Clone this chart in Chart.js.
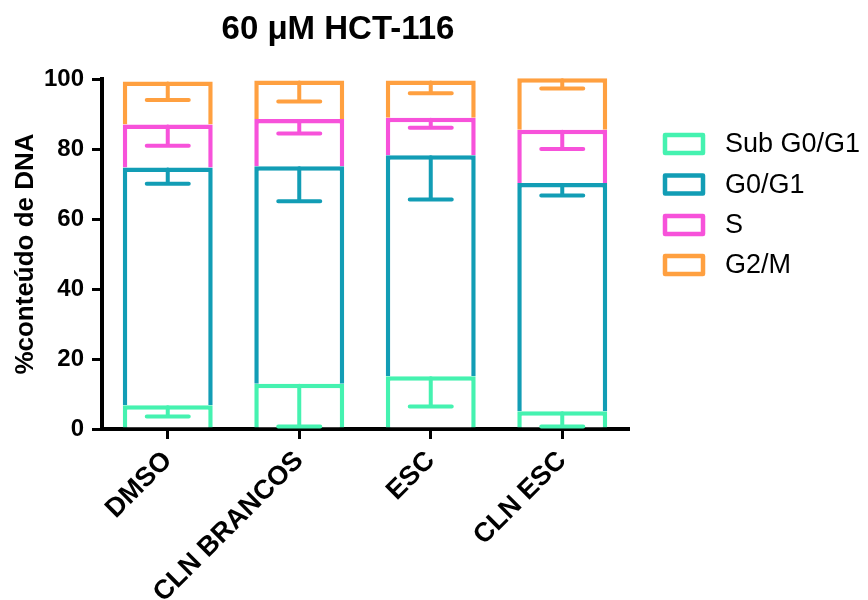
<!DOCTYPE html>
<html>
<head>
<meta charset="utf-8">
<script src="https://cdn.jsdelivr.net/npm/chart.js@4.4.1/dist/chart.umd.min.js"></script>
<style>
  html, body { margin: 0; padding: 0; background: #fff; }
  #wrap { width: 868px; height: 600px; }
</style>
</head>
<body>
<div id="wrap"><canvas id="cellCycle" width="868" height="600"></canvas></div>
<script>
// dati
const categories = ['DMSO', 'CLN BRANCOS', 'ESC', 'CLN ESC'];
const seriesLabels = ['Sub G0/G1', 'G0/G1', 'S', 'G2/M'];
const seriesColors = ['#45F2B0', '#129DB5', '#F752DA', '#FFA040'];

const subG0G1 = [6.8, 12.9, 15.1, 5.1];
const g0g1 = [67.9, 62.2, 63.1, 65.2];
const sPhase = [12.3, 13.5, 10.7, 15.2];
const g2m = [12.3, 11.0, 10.7, 14.7];

// errore (solo verso il basso)
const subG0G1Err = [3.2, 12.2, 8.7, 4.4];
const g0g1Err = [4.6, 10.0, 12.6, 3.6];
const sErr = [6.1, 4.2, 2.8, 5.5];
const g2mErr = [5.3, 6.0, 3.7, 2.9];

const yTicks = [0, 20, 40, 60, 80, 100];

const seriesValues = [subG0G1, g0g1, sPhase, g2m];
const seriesErrors = [subG0G1Err, g0g1Err, sErr, g2mErr];

const FONT = "'Liberation Sans', Arial, sans-serif";
const BORDER = 4.5;

// barre di errore disegnate sopra le barre impilate
const errorBars = {
    id: 'errorBars',
    afterDatasetsDraw(chart) {
        const ctx = chart.ctx;
        const y = chart.scales.y;
        ctx.save();
        ctx.lineWidth = 4;
        ctx.lineCap = 'round';
        chart.data.datasets.forEach((ds, i) => {
            const meta = chart.getDatasetMeta(i);
            meta.data.forEach((bar, j) => {
                let top = 0;
                for (let k = 0; k <= i; k++) top += seriesValues[k][j];
                const yCap = y.getPixelForValue(top - seriesErrors[i][j]);
                ctx.strokeStyle = ds.borderColor;
                ctx.beginPath();
                ctx.moveTo(bar.x, bar.y + 2);
                ctx.lineTo(bar.x, yCap);
                ctx.moveTo(bar.x - 21, yCap);
                ctx.lineTo(bar.x + 21, yCap);
                ctx.stroke();
            });
        });
        ctx.restore();
    }
};

// titolo e legenda a destra
const titleAndLegend = {
    id: 'titleAndLegend',
    afterDraw(chart) {
        const ctx = chart.ctx;
        ctx.save();
        ctx.fillStyle = '#000';
        ctx.textAlign = 'center';
        ctx.textBaseline = 'middle';
        ctx.font = 'bold 33px ' + FONT;
        ctx.fillText('60 \u03BCM HCT-116', 338, 30);

        ctx.textAlign = 'left';
        ctx.font = '27px ' + FONT;
        const rows = [144, 184.5, 225, 265];
        chart.data.datasets.forEach((ds, i) => {
            const cy = rows[i];
            ctx.lineWidth = BORDER;
            ctx.lineJoin = 'round';
            ctx.strokeStyle = ds.borderColor;
            ctx.strokeRect(665, cy - 9, 38, 18);
            ctx.fillStyle = '#000';
            ctx.fillText(ds.label, 725, cy + 1);
        });
        ctx.restore();
    }
};

const datasets = seriesLabels.map((label, i) => ({
    label: label,
    data: seriesValues[i],
    backgroundColor: '#ffffff',
    borderColor: seriesColors[i],
    borderWidth: BORDER,
    clip: false
}));

new Chart(document.getElementById('cellCycle').getContext('2d'), {
    type: 'bar',
    data: { labels: categories, datasets: datasets },
    options: {
        responsive: false,
        animation: false,
        layout: { padding: { top: 79, right: 240, left: 0, bottom: 0 } },
        datasets: { bar: { barPercentage: 0.684, categoryPercentage: 1 } },
        plugins: {
            legend: { display: false },
            title: { display: false },
            tooltip: { enabled: false }
        },
        scales: {
            x: {
                stacked: true,
                afterFit: s => { s.height = 171; },
                grid: { offset: false, drawOnChartArea: false, drawTicks: true, tickLength: 10, lineWidth: 3, color: '#000' },
                border: { display: true, width: 4, color: '#000' },
                ticks: {
                    color: '#000',
                    minRotation: 45,
                    maxRotation: 45,
                    padding: 6,
                    font: { family: FONT, size: 27, weight: 'bold' }
                }
            },
            y: {
                stacked: true,
                min: 0,
                max: 100,
                afterFit: s => { s.width = 102; },
                afterBuildTicks: s => { s.ticks = yTicks.map(v => ({ value: v })); },
                grid: { drawOnChartArea: false, drawTicks: true, tickLength: 10, lineWidth: 3, color: '#000' },
                border: { display: true, width: 4, color: '#000' },
                ticks: {
                    color: '#000',
                    padding: 8,
                    font: { family: FONT, size: 24, weight: 'bold' }
                },
                title: {
                    display: true,
                    text: '%conteúdo de DNA',
                    color: '#000',
                    padding: { top: 10, bottom: 8 },
                    font: { family: FONT, size: 26, weight: 'bold' }
                }
            }
        }
    },
    plugins: [errorBars, titleAndLegend]
});
</script>
</body>
</html>
